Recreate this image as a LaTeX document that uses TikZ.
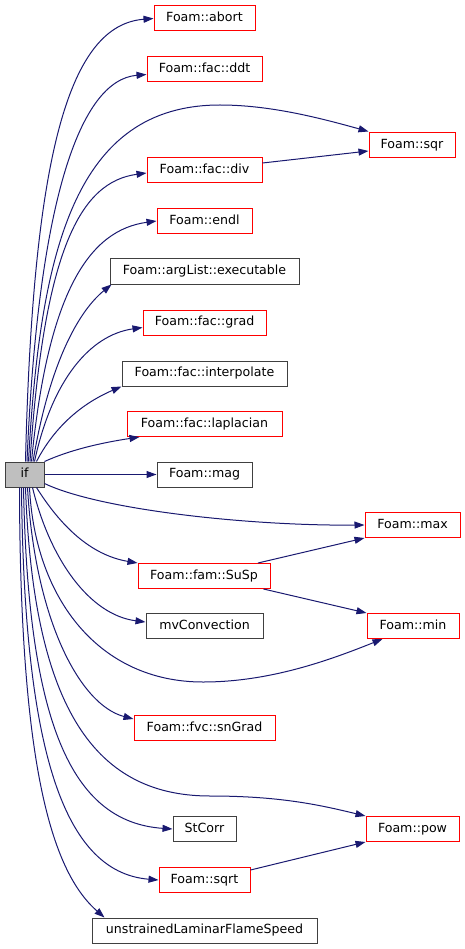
\documentclass[tikz,border=0pt]{standalone}
\usepackage{fontspec}
\setmainfont{DejaVu Sans}
\usetikzlibrary{arrows.meta,calc}
\definecolor{EdgeBlue}{HTML}{191970}
\definecolor{LinkRed}{HTML}{FF0000}
\definecolor{BoxGrey}{HTML}{404040}
\definecolor{RootFill}{HTML}{BFBFBF}
\tikzset{
  fn/.style={line width=1pt,inner sep=0pt,minimum height=25pt,
             text height=9.3pt,text depth=2.6pt,
             font=\fontsize{12.6}{14}\selectfont,text=black},
  fnred/.style={fn,draw=LinkRed},
  fnblack/.style={fn,draw=BoxGrey},
  call/.style={EdgeBlue,line width=1pt,-{Triangle[length=10pt,width=7pt]}}
}

\begin{document}
\begin{tikzpicture}[x=1pt,y=-1pt]
      \useasboundingbox (0,0) rectangle (465,949);
      % caller
      \node[fnblack,fill=RootFill,minimum width=39pt] (if) at (24.5,474.5) {if};
      % callees
      \node[fnred,minimum width=101pt] (abort) at (204.5,18.5) {Foam::abort};
      \node[fnred,minimum width=115pt] (ddt) at (204.5,69.5) {Foam::fac::ddt};
      \node[fnred,minimum width=86pt] (sqr) at (412,145.5) {Foam::sqr};
      \node[fnred,minimum width=115pt] (div) at (204.5,170) {Foam::fac::div};
      \node[fnred,minimum width=95pt] (endl) at (204.5,221) {Foam::endl};
      \node[fnblack,minimum width=189pt] (executable) at (204.5,271.5) {Foam::argList::executable};
      \node[fnred,minimum width=123pt] (grad) at (204.5,322.5) {Foam::fac::grad};
      \node[fnblack,minimum width=165pt] (interpolate) at (204.5,373.5) {Foam::fac::interpolate};
      \node[fnred,minimum width=155pt] (laplacian) at (204.5,424) {Foam::fac::laplacian};
      \node[fnblack,minimum width=95pt] (mag) at (204.5,474.5) {Foam::mag};
      \node[fnred,minimum width=95pt] (max) at (412.5,525) {Foam::max};
      \node[fnred,minimum width=132pt] (SuSp) at (204,576) {Foam::fam::SuSp};
      \node[fnblack,minimum width=117pt] (mvConvection) at (204.5,626) {mvConvection};
      \node[fnred,minimum width=92pt] (min) at (413,626) {Foam::min};
      \node[fnred,minimum width=141pt] (snGrad) at (204.5,728) {Foam::fvc::snGrad};
      \node[fnred,minimum width=93pt] (pow) at (412.5,829) {Foam::pow};
      \node[fnblack,minimum width=63pt] (StCorr) at (204.5,829) {StCorr};
      \node[fnred,minimum width=91pt] (sqrt) at (204.5,880) {Foam::sqrt};
      \node[fnblack,minimum width=225pt] (unstrained) at (204.5,930.5) {unstrainedLaminarFlameSpeed};

      % calls going up
      \draw[call] ($(if.north)+(1,0)$) .. controls (33,150) and (70,25) .. (abort.west);
      \draw[call] ($(if.north)+(2.5,0)$) .. controls (38,200) and (80,80) .. ($(ddt.west)+(0,5)$);
      \draw[call] ($(if.north)+(4,0)$) .. controls (40,250) and (75,105) .. (220,105)
                  .. controls (270,105) and (320,118) .. ($(sqr.north west)+(0,-1)$);
      \draw[call] ($(if.north)+(5.5,0)$) .. controls (44,250) and (80,182) .. ($(div.west)+(0,3)$);
      \draw[call] ($(if.north)+(7,0)$) .. controls (48,290) and (90,230) .. (endl.west);
      \draw[call] ($(if.north)+(8.5,0)$) .. controls (50,360) and (80,310) .. ($(executable.south west)+(2,0)$);
      \draw[call] ($(if.north)+(10,0)$) .. controls (52,380) and (90,335) .. ($(grad.west)+(0,5)$);
      \draw[call] ($(if.north)+(12,0)$) .. controls (58,420) and (90,400) .. (interpolate.south west);
      \draw[call] (if.north east) .. controls (70,450) and (100,443) .. ($(laplacian.south west)+(13,0)$);
      \draw[call] (if.east) -- (mag.west);
      % calls going down
      \draw[call] ($(if.east)+(0,9)$) .. controls (100,510) and (250,526) .. (max.west);
      \draw[call] ($(if.south)+(12,0)$) .. controls (60,525) and (90,555) .. (SuSp.north west);
      \draw[call] ($(if.south)+(8,0)$) .. controls (50,560) and (90,615) .. ($(mvConvection.west)+(0,-4)$);
      \draw[call] ($(if.south)+(5,0)$) .. controls (35,600) and (100,682) .. (203,682)
                  .. controls (270,682) and (330,660) .. ($(min.south west)+(16,0)$);
      \draw[call] ($(if.south)+(3,0)$) .. controls (35,620) and (80,705) .. ($(snGrad.north west)+(0,4)$);
      \draw[call] ($(if.south)+(1,0)$) .. controls (33,700) and (90,796) .. (210,796)
                  .. controls (280,796) and (320,805) .. (pow.north west);
      \draw[call] ($(if.south)+(-1,0)$) .. controls (28,720) and (70,822) .. (StCorr.west);
      \draw[call] ($(if.south)+(-3,0)$) .. controls (24,740) and (60,872) .. (sqrt.west);
      \draw[call] ($(if.south)+(-5,0)$) .. controls (20,760) and (50,870) .. ($(unstrained.north west)+(13,0)$);
      % second level
      \draw[call] ($(div.east)+(0,-7)$) -- ($(sqr.west)+(0,5.5)$);
      \draw[call] ($(SuSp.north)+(54,0)$) -- (max.south west);
      \draw[call] ($(SuSp.south east)+(-7,0)$) -- (min.north west);
      \draw[call] ($(sqrt.east)+(0,-10)$) -- (pow.south west);
\end{tikzpicture}
\end{document}
